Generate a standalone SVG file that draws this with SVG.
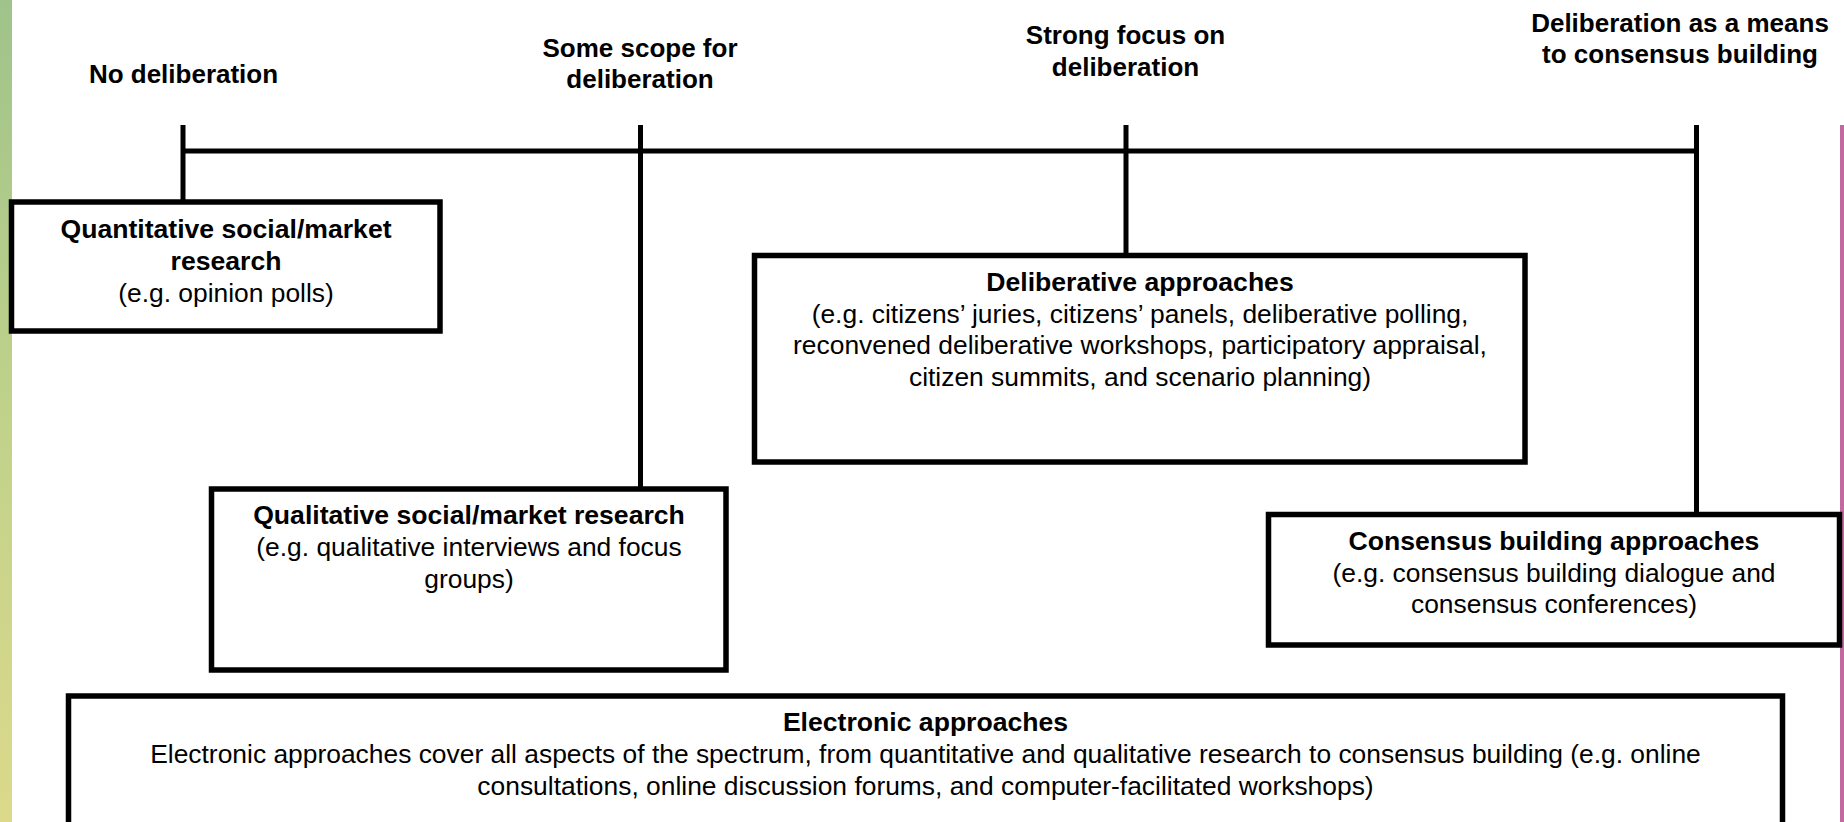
<svg xmlns="http://www.w3.org/2000/svg" width="1844" height="822" viewBox="0 0 1844 822">
  <defs>
    <linearGradient id="leftBar" x1="0" y1="0" x2="0" y2="1">
      <stop offset="0" stop-color="#9fc38b"/>
      <stop offset="0.5" stop-color="#c0d28a"/>
      <stop offset="1" stop-color="#dcd98a"/>
    </linearGradient>
    <style>
      .box { fill: #ffffff; stroke: #000000; stroke-width: 5.5; }
      .ln { stroke: #000000; stroke-width: 5; fill: none; }
      text { font-family: "Liberation Sans", Arial, sans-serif; font-size: 26.4px; fill: #000000; text-anchor: middle; }
      .b { font-weight: bold; font-size: 26.6px; }
      .h { font-weight: bold; font-size: 26px; }
    </style>
  </defs>
  <rect x="0" y="0" width="1844" height="822" fill="#ffffff"/>
  <rect x="0" y="0" width="12" height="822" fill="url(#leftBar)"/>
  <rect x="1840" y="125" width="4" height="697" fill="#c2699f"/>

  <g id="headers">
    <text class="h" x="183.5" y="83">No deliberation</text>
    <text class="h" x="640" y="57">Some scope for</text>
    <text class="h" x="640" y="88">deliberation</text>
    <text class="h" x="1125.5" y="44">Strong focus on</text>
    <text class="h" x="1125.5" y="76">deliberation</text>
    <text class="h" x="1680" y="32">Deliberation as a means</text>
    <text class="h" x="1680" y="63">to consensus building</text>
  </g>

  <g id="connectors">
    <line class="ln" x1="183" y1="151" x2="1696.5" y2="151"/>
    <line class="ln" x1="183" y1="125" x2="183" y2="202"/>
    <line class="ln" x1="640.5" y1="125" x2="640.5" y2="489"/>
    <line class="ln" x1="1126" y1="125" x2="1126" y2="255"/>
    <line class="ln" x1="1696.5" y1="125" x2="1696.5" y2="514"/>
  </g>

  <g id="quantitative">
    <rect class="box" x="11.5" y="202" width="428.5" height="129"/>
    <text class="b" x="226" y="238">Quantitative social/market</text>
    <text class="b" x="226" y="270">research</text>
    <text x="226" y="302">(e.g. opinion polls)</text>
  </g>

  <g id="qualitative">
    <rect class="box" x="211.5" y="489" width="514.5" height="181"/>
    <text class="b" x="469" y="524">Qualitative social/market research</text>
    <text x="469" y="556">(e.g. qualitative interviews and focus</text>
    <text x="469" y="588">groups)</text>
  </g>

  <g id="deliberative">
    <rect class="box" x="754.5" y="255.5" width="770.5" height="206.5"/>
    <text class="b" x="1140" y="291">Deliberative approaches</text>
    <text x="1140" y="322.5">(e.g. citizens’ juries, citizens’ panels, deliberative polling,</text>
    <text x="1140" y="354">reconvened deliberative workshops, participatory appraisal,</text>
    <text x="1140" y="385.5">citizen summits, and scenario planning)</text>
  </g>

  <g id="consensus">
    <rect class="box" x="1268.5" y="514.5" width="571" height="130.5"/>
    <text class="b" x="1554" y="550">Consensus building approaches</text>
    <text x="1554" y="582">(e.g. consensus building dialogue and</text>
    <text x="1554" y="613">consensus conferences)</text>
  </g>

  <g id="electronic">
    <rect class="box" x="68.5" y="696" width="1714" height="140"/>
    <text class="b" x="925.5" y="731">Electronic approaches</text>
    <text x="925.5" y="763">Electronic approaches cover all aspects of the spectrum, from quantitative and qualitative research to consensus building (e.g. online</text>
    <text x="925.5" y="795">consultations, online discussion forums, and computer-facilitated workshops)</text>
  </g>
</svg>
